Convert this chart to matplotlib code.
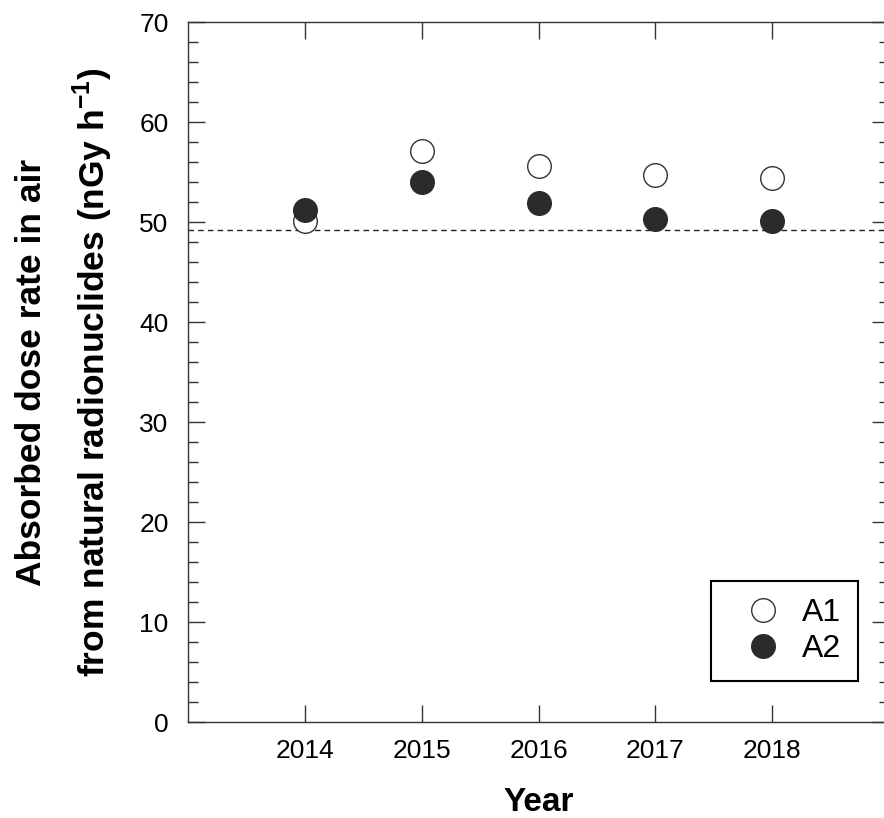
import matplotlib
matplotlib.use("Agg")
import matplotlib.pyplot as plt
from matplotlib.ticker import MultipleLocator

years = [2014, 2015, 2016, 2017, 2018]
a1 = [50.1, 57.1, 55.6, 54.7, 54.4]
a2 = [51.2, 54.0, 51.9, 50.3, 50.1]
ref_level = 49.25

plt.rcParams['font.family'] = ['Liberation Sans', 'DejaVu Sans']

fig = plt.figure(figsize=(8.84, 8.18), dpi=100)
ax = fig.add_axes([188 / 884, 96 / 818, 701 / 884, 700 / 818])

# dashed reference level
ax.axhline(ref_level, color='#222222', lw=1.0, ls=(0, (4, 3)), zorder=1)
ax.plot(years, a1, 'o', ms=17, mfc='white', mec='#333333', mew=1.0, ls='none', label='A1', zorder=3)
ax.plot(years, a2, 'o', ms=17, mfc='#2b2b2b', mec='#2b2b2b', mew=1.0, ls='none', label='A2', zorder=4)

ax.set_xlim(2013, 2019)
ax.set_ylim(0, 70)
ax.set_xticks(years)
ax.yaxis.set_major_locator(MultipleLocator(10))
ax.yaxis.set_minor_locator(MultipleLocator(2))
ax.tick_params(axis='both', which='major', direction='in', length=12, width=1,
               color='#333333', labelsize=19, top=True, right=True)
ax.tick_params(axis='x', which='major', pad=12)
ax.tick_params(axis='y', which='major', pad=14)
ax.tick_params(axis='y', which='minor', direction='in', length=7, width=1,
               color='#333333', right=True)
for s in ax.spines.values():
    s.set_color('#333333')
    s.set_linewidth(1.0)

ax.set_xlabel('Year', fontsize=24, fontweight='bold', va='center')
ax.xaxis.set_label_coords(0.5, -0.1157)

ax.set_ylabel('Absorbed dose rate in air\nfrom natural radionuclides (nGy h$^{\\mathregular{-1}}$)',
              fontsize=25.5, fontweight='bold', linespacing=1.67)
ax.yaxis.set_label_coords(-0.104, 0.5)

leg = ax.legend(loc='lower right', bbox_to_anchor=(0.956, 0.0586), fontsize=23,
                frameon=True, fancybox=False, framealpha=1, edgecolor='black',
                handletextpad=0.1, borderpad=0.52, labelspacing=0.2, handlelength=2.25,
                borderaxespad=0)
leg.get_frame().set_linewidth(1.5)

fig.savefig('out.png', dpi=100)
